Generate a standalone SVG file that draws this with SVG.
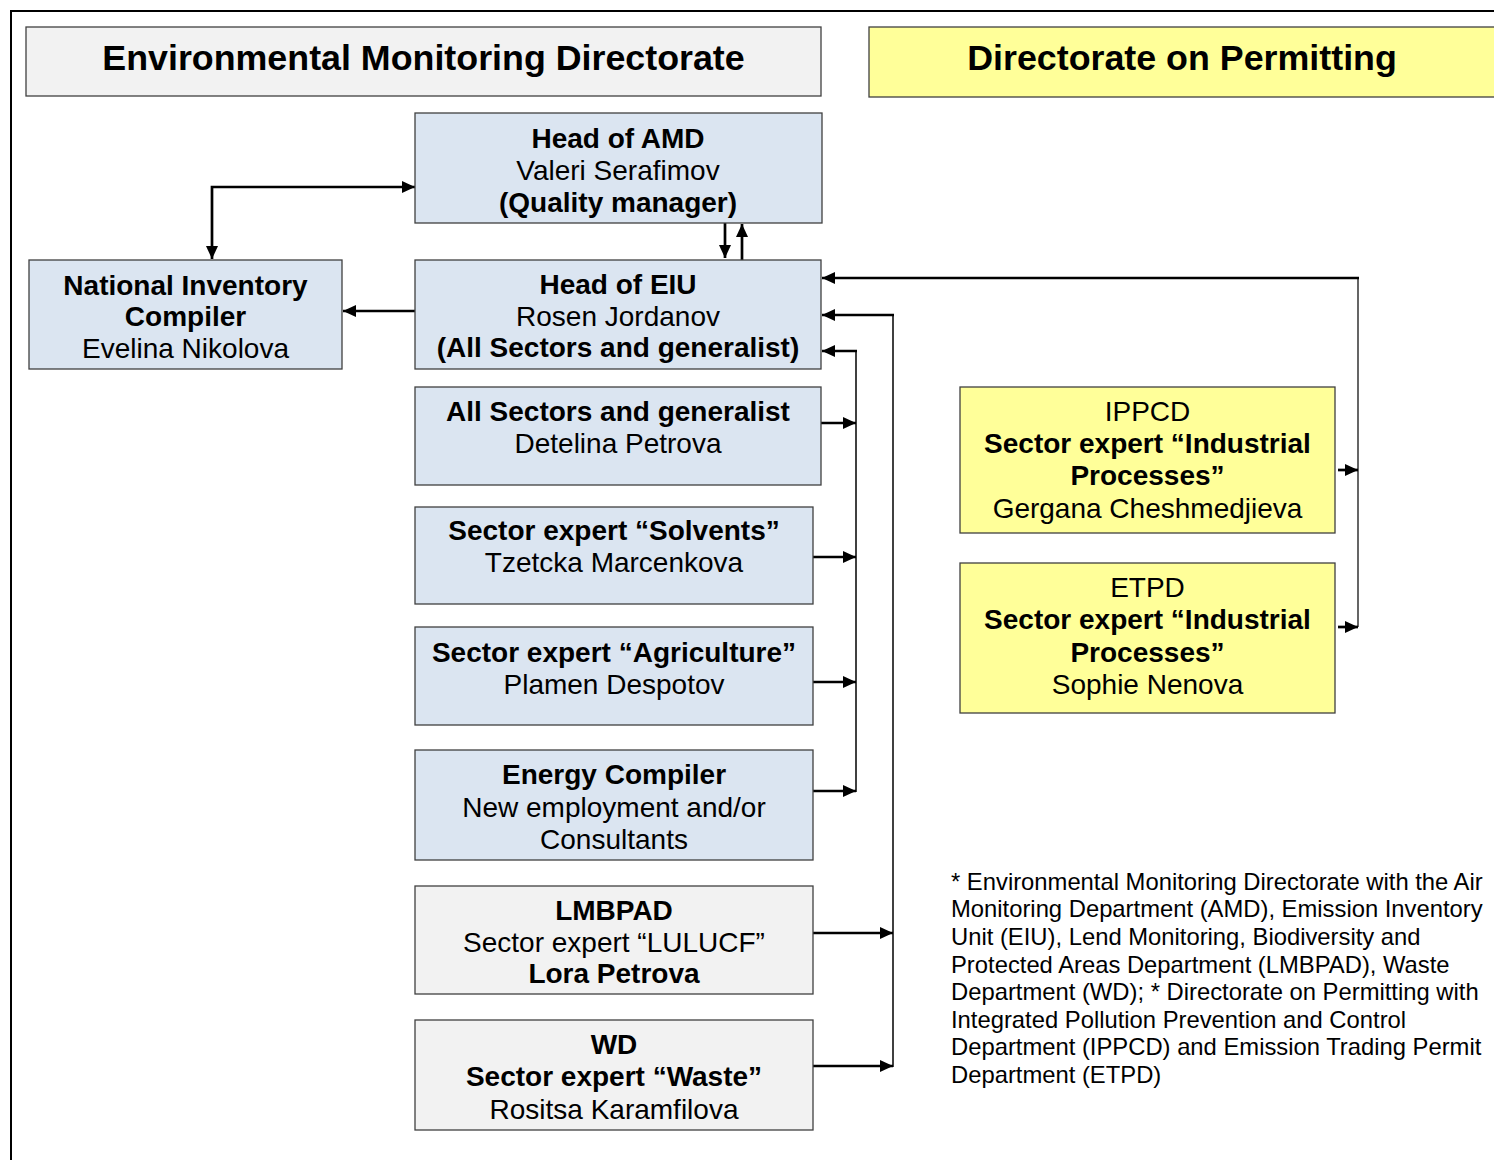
<svg xmlns="http://www.w3.org/2000/svg" width="1494" height="1160" viewBox="0 0 1494 1160">
<style>
text{font-family:"Liberation Sans",Arial,sans-serif;fill:#000}
.t{font-size:28px;text-anchor:middle}
.b{font-weight:bold}
.title{font-size:35.8px;font-weight:bold;text-anchor:middle}
.note{font-size:23.8px}
.box{stroke:#404040;stroke-width:1.3}
.blue{fill:#dbe5f1}
.grey{fill:#f2f2f2}
.yel{fill:#ffff99}
.c{fill:none;stroke:#000;stroke-width:2.7}
.v{fill:none;stroke:#000;stroke-width:1.5}
.vg{fill:none;stroke:#555;stroke-width:1.8}
</style>
<defs>
<marker id="ah" viewBox="0 0 13 12" refX="13" refY="6" markerWidth="13" markerHeight="12" orient="auto-start-reverse" markerUnits="userSpaceOnUse"><path d="M0,0 L13,6 L0,12 z" fill="#000"/></marker>
</defs>
<rect width="1494" height="1160" fill="#fff"/>
<path d="M11,1160 V11 H1494" fill="none" stroke="#000" stroke-width="2"/>

<g id="emd-title">
<rect class="box grey" x="26" y="27" width="795" height="69"/>
<text class="title" x="423.5" y="70">Environmental Monitoring Directorate</text>
</g>
<g id="dp-title">
<rect class="box yel" x="869" y="27" width="630" height="70"/>
<text class="title" x="1182" y="70">Directorate on Permitting</text>
</g>

<g id="connectors">
<path class="c" d="M212,259 V187 H415" marker-start="url(#ah)" marker-end="url(#ah)"/>
<path class="c" d="M725,223 V258" marker-end="url(#ah)"/>
<path class="c" d="M742,260 V224" marker-end="url(#ah)"/>
<path class="c" d="M415,311 H343" marker-end="url(#ah)"/>
<path class="vg" d="M1358,278 V627"/>
<path class="c" d="M1359,278 H822" marker-end="url(#ah)"/>
<path class="c" d="M1338,470 H1358" marker-end="url(#ah)"/>
<path class="c" d="M1338,627 H1358" marker-end="url(#ah)"/>
<path class="v" d="M893,315 V1067"/>
<path class="c" d="M894,315 H822" marker-end="url(#ah)"/>
<path class="c" d="M813,933 H893" marker-end="url(#ah)"/>
<path class="c" d="M813,1066 H893" marker-end="url(#ah)"/>
<path class="v" d="M856,351 V792"/>
<path class="c" d="M857,351 H822" marker-end="url(#ah)"/>
<path class="c" d="M821,423 H856" marker-end="url(#ah)"/>
<path class="c" d="M813,557 H856" marker-end="url(#ah)"/>
<path class="c" d="M813,682 H856" marker-end="url(#ah)"/>
<path class="c" d="M813,791 H856" marker-end="url(#ah)"/>
</g>

<g id="head-amd">
<rect class="box blue" x="415" y="113" width="407" height="110"/>
<text class="t b" x="618" y="148">Head of AMD</text>
<text class="t" x="618" y="180">Valeri Serafimov</text>
<text class="t b" x="618" y="212">(Quality manager)</text>
</g>
<g id="nic">
<rect class="box blue" x="29" y="260" width="313" height="109"/>
<text class="t b" x="185.5" y="295">National Inventory</text>
<text class="t b" x="185.5" y="326">Compiler</text>
<text class="t" x="185.5" y="358">Evelina Nikolova</text>
</g>
<g id="head-eiu">
<rect class="box blue" x="415" y="260" width="406" height="109"/>
<text class="t b" x="618" y="294">Head of EIU</text>
<text class="t" x="618" y="326">Rosen Jordanov</text>
<text class="t b" x="618" y="357">(All Sectors and generalist)</text>
</g>
<g id="all-sectors">
<rect class="box blue" x="415" y="387" width="406" height="98"/>
<text class="t b" x="618" y="421">All Sectors and generalist</text>
<text class="t" x="618" y="453">Detelina Petrova</text>
</g>
<g id="solvents">
<rect class="box blue" x="415" y="507" width="398" height="97"/>
<text class="t b" x="614" y="540">Sector expert “Solvents”</text>
<text class="t" x="614" y="572">Tzetcka Marcenkova</text>
</g>
<g id="agriculture">
<rect class="box blue" x="415" y="627" width="398" height="98"/>
<text class="t b" x="614" y="662">Sector expert “Agriculture”</text>
<text class="t" x="614" y="694">Plamen Despotov</text>
</g>
<g id="energy">
<rect class="box blue" x="415" y="750" width="398" height="110"/>
<text class="t b" x="614" y="784">Energy Compiler</text>
<text class="t" x="614" y="817">New employment and/or</text>
<text class="t" x="614" y="849">Consultants</text>
</g>
<g id="lmbpad">
<rect class="box grey" x="415" y="886" width="398" height="108"/>
<text class="t b" x="614" y="920">LMBPAD</text>
<text class="t" x="614" y="952">Sector expert “LULUCF”</text>
<text class="t b" x="614" y="983">Lora Petrova</text>
</g>
<g id="wd">
<rect class="box grey" x="415" y="1020" width="398" height="110"/>
<text class="t b" x="614" y="1054">WD</text>
<text class="t b" x="614" y="1086">Sector expert “Waste”</text>
<text class="t" x="614" y="1119">Rositsa Karamfilova</text>
</g>
<g id="ippcd">
<rect class="box yel" x="960" y="387" width="375" height="146"/>
<text class="t" x="1147.5" y="421">IPPCD</text>
<text class="t b" x="1147.5" y="453">Sector expert “Industrial</text>
<text class="t b" x="1147.5" y="485">Processes”</text>
<text class="t" x="1147.5" y="518">Gergana Cheshmedjieva</text>
</g>
<g id="etpd">
<rect class="box yel" x="960" y="563" width="375" height="150"/>
<text class="t" x="1147.5" y="597">ETPD</text>
<text class="t b" x="1147.5" y="629">Sector expert “Industrial</text>
<text class="t b" x="1147.5" y="662">Processes”</text>
<text class="t" x="1147.5" y="694">Sophie Nenova</text>
</g>

<g id="footnote">
<text class="note" x="951" y="890">* Environmental Monitoring Directorate with the Air</text>
<text class="note" x="951" y="917">Monitoring Department (AMD), Emission Inventory</text>
<text class="note" x="951" y="945">Unit (EIU), Lend Monitoring, Biodiversity and</text>
<text class="note" x="951" y="973">Protected Areas Department (LMBPAD), Waste</text>
<text class="note" x="951" y="1000">Department (WD); * Directorate on Permitting with</text>
<text class="note" x="951" y="1028">Integrated Pollution Prevention and Control</text>
<text class="note" x="951" y="1055">Department (IPPCD) and Emission Trading Permit</text>
<text class="note" x="951" y="1083">Department (ETPD)</text>
</g>
</svg>
